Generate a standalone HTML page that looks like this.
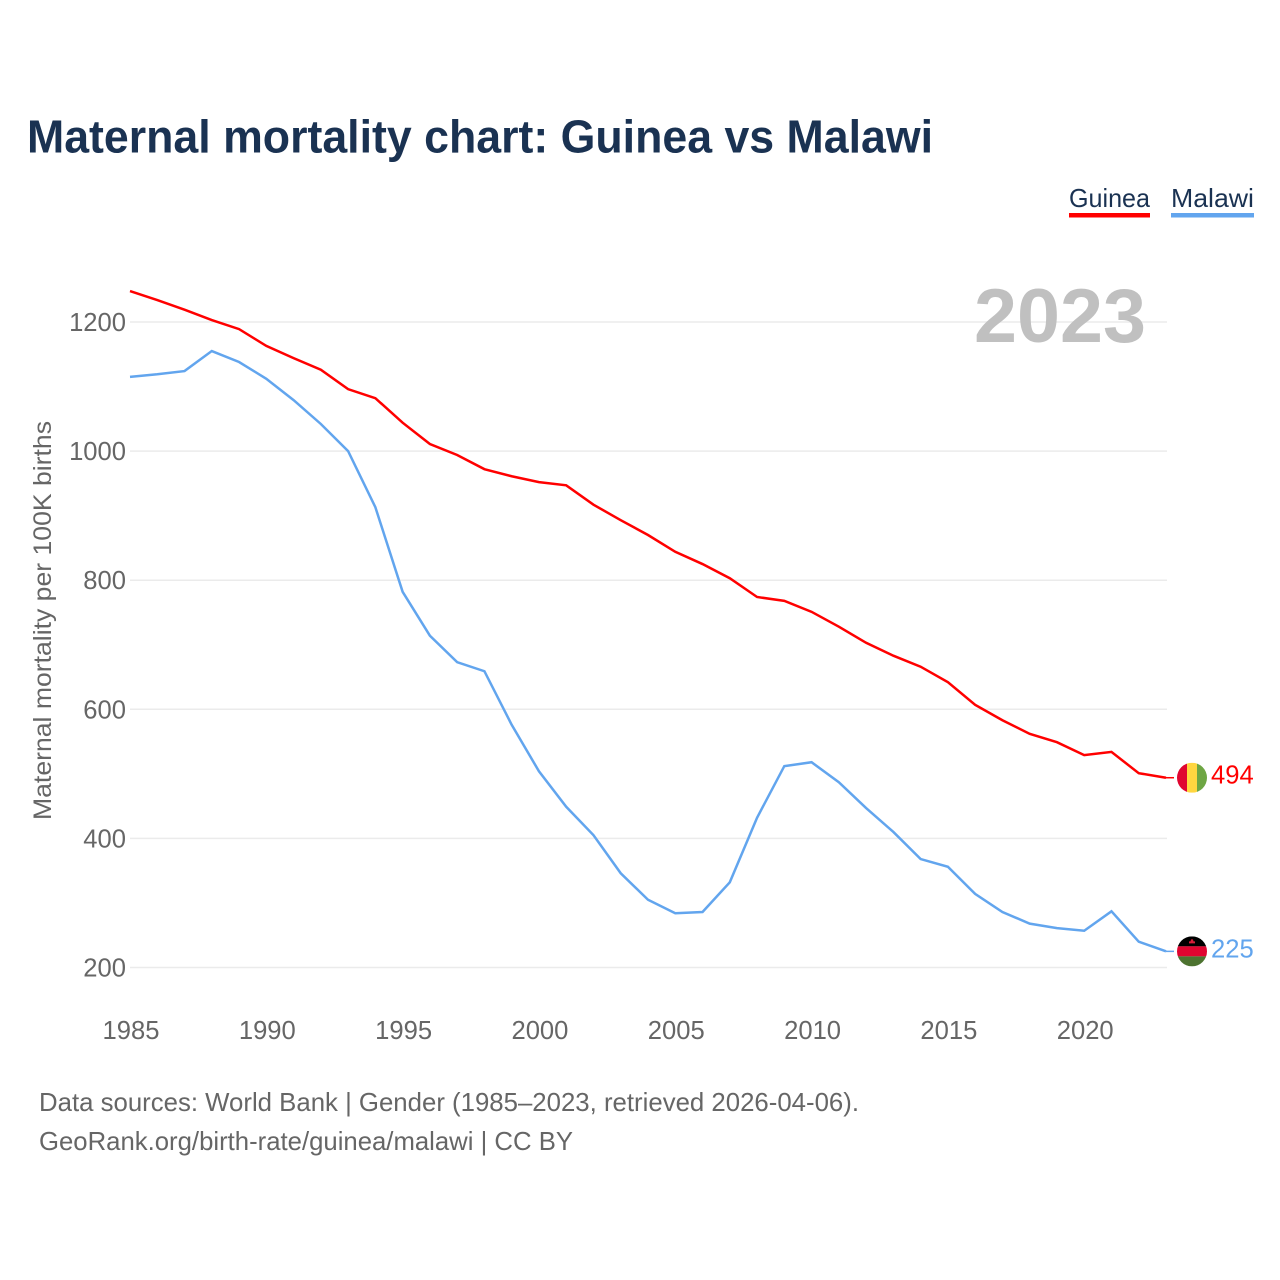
<!DOCTYPE html>
<html lang="en">
<head>
<meta charset="utf-8">
<title>Maternal mortality chart: Guinea vs Malawi</title>
<style>
html,body{margin:0;padding:0;background:#fff;}
svg{display:block;font-family:"Liberation Sans",sans-serif;}
</style>
</head>
<body>
<svg id="chart" xmlns="http://www.w3.org/2000/svg" width="1280" height="1280" viewBox="0 0 1280 1280">
  <rect width="1280" height="1280" fill="#fff"/>
  <text x="27" y="152.5" font-size="46" font-weight="700" fill="#1a3252" textLength="906" lengthAdjust="spacingAndGlyphs">Maternal mortality chart: Guinea vs Malawi</text>

  <g>
    <text x="1069" y="207" font-size="26" fill="#1a3252" textLength="81" lengthAdjust="spacingAndGlyphs">Guinea</text>
    <rect x="1069" y="213" width="81" height="4.5" fill="#ff0000"/>
  </g>
  <g>
    <text x="1171" y="207" font-size="26" fill="#1a3252" textLength="83" lengthAdjust="spacingAndGlyphs">Malawi</text>
    <rect x="1171" y="213" width="83" height="4.5" fill="#62a5ee"/>
  </g>

  <g id="grid"></g>
  <g id="yticks"></g>
  <g id="xticks"></g>

  <text transform="translate(51,820) rotate(-90)" x="0" y="0" font-size="25" fill="#666666" textLength="399" lengthAdjust="spacingAndGlyphs">Maternal mortality per 100K births</text>

  <text x="974" y="342" font-size="76" font-weight="700" fill="#c0c0c0" textLength="172" lengthAdjust="spacingAndGlyphs">2023</text>

  <g id="series"></g>

  <defs>
    <clipPath id="clip-guinea"><circle id="clip-guinea-c" cx="1192" cy="777" r="15"/></clipPath>
    <clipPath id="clip-malawi"><circle id="clip-malawi-c" cx="1192" cy="951" r="15"/></clipPath>
  </defs>
  <g id="flag-guinea" clip-path="url(#clip-guinea)">
    <g id="flag-guinea-art">
      <rect x="1177" y="-15" width="10" height="30" fill="#e00530"/>
      <rect x="1187" y="-15" width="10" height="30" fill="#ffd640"/>
      <rect x="1197" y="-15" width="10" height="30" fill="#6ea644"/>
    </g>
  </g>
  <g id="flag-malawi" clip-path="url(#clip-malawi)">
    <g id="flag-malawi-art">
      <rect x="1177" y="-15" width="30" height="10" fill="#000000"/>
      <rect x="1177" y="-5" width="30" height="10" fill="#e00530"/>
      <rect x="1177" y="5" width="30" height="10" fill="#4d7330"/>
      <path d="M1189 -8 L1189 -10 L1190.5 -10 L1191 -12 L1193 -12 L1193.5 -10 L1195 -10 L1195 -8 Z" fill="#d81e3a"/>
    </g>
  </g>

  <text id="value-guinea" x="1211" font-size="25.6" fill="#ff0000"></text>
  <text id="value-malawi" x="1211" font-size="25.6" fill="#62a5ee"></text>

  <text x="39" y="1111" font-size="26" fill="#666666" textLength="820" lengthAdjust="spacingAndGlyphs">Data sources: World Bank | Gender (1985–2023, retrieved 2026-04-06).</text>
  <text x="39" y="1150" font-size="26" fill="#666666" textLength="534" lengthAdjust="spacingAndGlyphs">GeoRank.org/birth-rate/guinea/malawi | CC BY</text>
</svg>
<script>
const years = [1985,1986,1987,1988,1989,1990,1991,1992,1993,1994,1995,1996,1997,1998,1999,2000,2001,2002,2003,2004,2005,2006,2007,2008,2009,2010,2011,2012,2013,2014,2015,2016,2017,2018,2019,2020,2021,2022,2023];
const guineaValues = [1248,1234,1219,1203,1189,1163,1144,1126,1096,1082,1044,1011,994,972,961,952,947,917,893,870,844,825,803,774,768,751,728,703,683,666,642,607,583,562,549,529,534,501,494];
const malawiValues = [1115,1119,1124,1155,1138,1112,1079,1042,1000,913,782,714,673,659,576,504,449,405,346,305,284,286,332,432,512,518,487,447,410,368,356,314,286,268,261,257,287,240,225];
const yTickLabels = [200,400,600,800,1000,1200];
const xTickLabels = [1985,1990,1995,2000,2005,2010,2015,2020];

const NS = 'http://www.w3.org/2000/svg';
const xScale = function (year) { return 130 + (year - 1985) * (1166 - 130) / (2023 - 1985); };
const yScale = function (value) { return 967.5 - (value - 200) * (967.5 - 322) / 1000; };

const gridGroup = document.getElementById('grid');
const yTickGroup = document.getElementById('yticks');
const xTickGroup = document.getElementById('xticks');
const seriesGroup = document.getElementById('series');

yTickLabels.forEach(function (tick) {
  const line = document.createElementNS(NS, 'line');
  
  
  line.setAttribute('x1', xScale(1985));
  line.setAttribute('x2', xScale(2023) + 1);
  line.setAttribute('y1', yScale(tick));
  line.setAttribute('y2', yScale(tick));
  line.setAttribute('stroke', '#ebebeb');
  line.setAttribute('stroke-width', '1.5');
  gridGroup.appendChild(line);

  const label = document.createElementNS(NS, 'text');
  
  
  label.setAttribute('x', 126);
  label.setAttribute('y', yScale(tick) + 9);
  label.setAttribute('text-anchor', 'end');
  label.setAttribute('font-size', '25.6');
  label.setAttribute('fill', '#666666');
  label.textContent = tick;
  yTickGroup.appendChild(label);
});

xTickLabels.forEach(function (tick) {
  const label = document.createElementNS(NS, 'text');
  
  
  label.setAttribute('x', xScale(tick) + 1);
  label.setAttribute('y', 1039);
  label.setAttribute('text-anchor', 'middle');
  label.setAttribute('font-size', '25.6');
  label.setAttribute('fill', '#666666');
  label.textContent = tick;
  xTickGroup.appendChild(label);
});

function linePath(values) {
  return values.map(function (value, i) {
    return (i ? 'L' : 'M') + xScale(years[i]).toFixed(2) + ' ' + yScale(value).toFixed(2);
  }).join(' ');
}

const guineaLine = document.createElementNS(NS, 'path');


guineaLine.setAttribute('d', linePath(guineaValues));
guineaLine.setAttribute('fill', 'none');
guineaLine.setAttribute('stroke', '#ff0000');
guineaLine.setAttribute('stroke-width', '2.5');
seriesGroup.appendChild(guineaLine);

const malawiLine = document.createElementNS(NS, 'path');


malawiLine.setAttribute('d', linePath(malawiValues));
malawiLine.setAttribute('fill', 'none');
malawiLine.setAttribute('stroke', '#62a5ee');
malawiLine.setAttribute('stroke-width', '2.5');
seriesGroup.appendChild(malawiLine);

function placeEnd(id, values, color) {
  const last = values[values.length - 1];
  const y = yScale(last);
  const connector = document.createElementNS(NS, 'line');
  
  
  connector.setAttribute('x1', xScale(2023));
  connector.setAttribute('x2', 1174);
  connector.setAttribute('y1', y);
  connector.setAttribute('y2', y);
  connector.setAttribute('stroke', color);
  connector.setAttribute('stroke-width', '1.5');
  seriesGroup.appendChild(connector);

  const circle = document.getElementById('clip-' + id + '-c');
  circle.setAttribute('cy', y);
  document.getElementById('flag-' + id + '-art').setAttribute('transform', 'translate(0,' + y + ')');

  const text = document.getElementById('value-' + id);
  text.setAttribute('y', y + 6);
  text.textContent = last;
}
placeEnd('guinea', guineaValues, '#ff0000');
placeEnd('malawi', malawiValues, '#62a5ee');
</script>
</body>
</html>
